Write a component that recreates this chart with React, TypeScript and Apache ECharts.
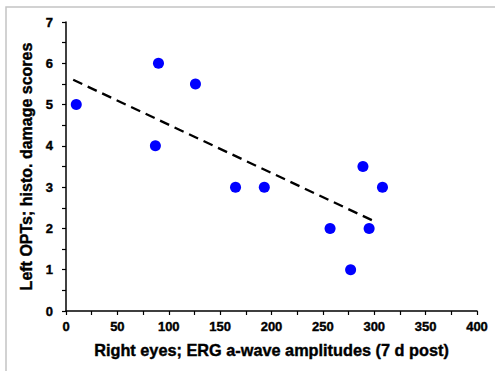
import React, { useEffect, useRef } from "react";
import * as echarts from "echarts";

const xValues = [10, 90, 87, 126, 165, 193, 257, 277, 295, 289, 308];
const yValues = [5, 6, 4, 5.5, 3, 3, 2, 1, 2, 3.5, 3];
const trendX = [7, 302];
const trendY = [5.6, 2.15];
const xTitle = "Right eyes; ERG a-wave amplitudes (7 d post)";
const yTitle = "Left OPTs; histo. damage scores";

export default function App() {
  const ref = useRef<HTMLDivElement>(null);
  useEffect(() => {
    if (!ref.current) return;
    const chart = echarts.init(ref.current, null, { renderer: "svg" });
    const font = "Arial";
    const heavy = { textBorderColor: "#000", textBorderWidth: 0.4 };
    chart.setOption({
      animation: false,
      backgroundColor: "#ffffff",
      graphic: [
        {
          type: "rect",
          shape: { x: 6, y: 7, width: 600, height: 500 },
          style: { fill: "none", stroke: "#c4c4c4", lineWidth: 1.5 },
          silent: true,
          z: -1,
        },
      ],
      grid: { left: 66, right: 18, top: 22, bottom: 60 },
      xAxis: {
        type: "value",
        min: 0,
        max: 400,
        interval: 50,
        name: xTitle,
        nameLocation: "middle",
        nameGap: 31,
        nameTextStyle: { fontFamily: font, fontWeight: 700, fontSize: 16.3, color: "#000", ...heavy },
        axisLine: { lineStyle: { color: "#000", width: 1.5 } },
        axisTick: { show: true, inside: false, length: 4, lineStyle: { color: "#000", width: 1.2 } },
        minorTick: { show: true, splitNumber: 2, length: 4, lineStyle: { color: "#000", width: 1.2 } },
        axisLabel: { fontFamily: font, fontWeight: 700, fontSize: 13, color: "#000", margin: 9, ...heavy },
        splitLine: { show: false },
      },
      yAxis: {
        type: "value",
        min: 0,
        max: 7,
        interval: 1,
        name: yTitle,
        nameLocation: "middle",
        nameGap: 29,
        nameTextStyle: { fontFamily: font, fontWeight: 700, fontSize: 16, color: "#000", ...heavy },
        axisLine: { show: true, lineStyle: { color: "#000", width: 1.5 } },
        axisTick: { show: true, inside: false, length: 4, lineStyle: { color: "#000", width: 1.2 } },
        minorTick: { show: true, splitNumber: 2, length: 4, lineStyle: { color: "#000", width: 1.2 } },
        axisLabel: { fontFamily: font, fontWeight: 700, fontSize: 13, color: "#000", margin: 13, ...heavy },
        splitLine: { show: false },
      },
      series: [
        {
          type: "line",
          data: trendX.map((x, i) => [x, trendY[i]]),
          symbol: "none",
          lineStyle: { color: "#000", width: 2.3, type: [10, 6] },
          silent: true,
          z: 1,
        },
        {
          type: "scatter",
          data: xValues.map((x, i) => [x, yValues[i]]),
          symbolSize: 11,
          itemStyle: { color: "#0000ff", opacity: 1 },
          z: 2,
        },
      ],
    });
    return () => chart.dispose();
  }, []);
  return (
    <div
      ref={ref}
      style={{ position: "fixed", left: 0, top: 0, width: 495, height: 371 }}
    />
  );
}
